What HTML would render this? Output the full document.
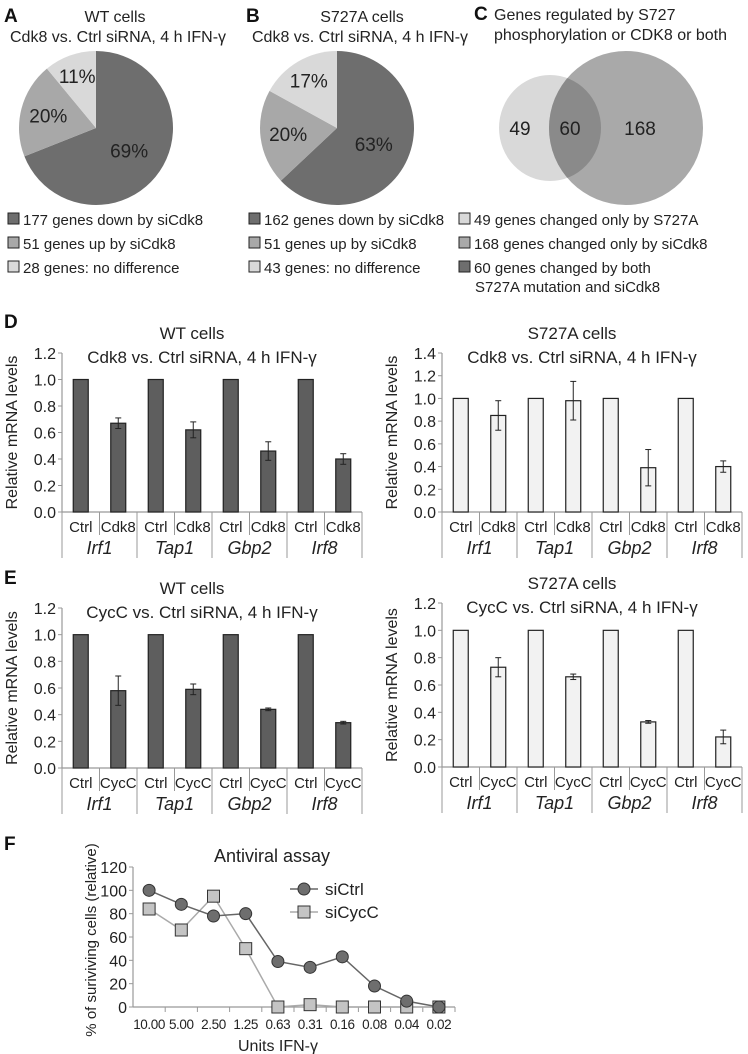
<!DOCTYPE html>
<html><head><meta charset="utf-8">
<style>
html,body{margin:0;padding:0;background:#fff;}
svg{display:block;font-family:"Liberation Sans",Arial,sans-serif;}
</style></head>
<body>
<svg id="fig" width="748" height="1054" viewBox="0 0 748 1054" xmlns="http://www.w3.org/2000/svg">
<g font-weight="bold" font-size="19" fill="#111">
<text x="4" y="22">A</text>
<text x="246" y="22">B</text>
<text x="474" y="20">C</text>
<text x="4" y="328">D</text>
<text x="4" y="584">E</text>
<text x="4" y="850">F</text>
</g>
<g font-size="16" fill="#222" text-anchor="middle">
<text x="115" y="22">WT cells</text>
<text x="118" y="42">Cdk8 vs. Ctrl siRNA, 4 h IFN-γ</text>
<text x="362" y="22">S727A cells</text>
<text x="360" y="42">Cdk8 vs. Ctrl siRNA, 4 h IFN-γ</text>
</g>
<g font-size="16" fill="#222">
<text x="494" y="20">Genes regulated by S727</text>
<text x="494" y="40">phosphorylation or CDK8 or both</text>
</g>
<g id="pies"></g>
<g id="venn">
<defs><clipPath id="smallclip"><ellipse cx="550" cy="128" rx="51" ry="53"/></clipPath></defs>
<ellipse cx="550" cy="128" rx="51" ry="53" fill="#d9d9d9"/>
<circle cx="626" cy="128" r="77" fill="#a9a9a9"/>
<circle cx="626" cy="128" r="77" fill="#8a8a8a" clip-path="url(#smallclip)"/>
<g font-size="19" fill="#222" text-anchor="middle">
<text x="520" y="135">49</text>
<text x="570" y="135">60</text>
<text x="640" y="135">168</text>
</g>
</g>
<g id="legends" font-size="15" fill="#222"></g>
<g id="bars"></g>
<g id="linechart"></g>
</svg>
<script>
// ---------- data ----------
const pieALabels = ["177 genes down by siCdk8","51 genes up by siCdk8","28 genes: no difference"];
const pieAValues = [69,20,11];
const pieBLabels = ["162 genes down by siCdk8","51 genes up by siCdk8","43 genes: no difference"];
const pieBValues = [63,20,17];
const vennLabels = ["49 genes changed only by S727A","168 genes changed only by siCdk8","60 genes changed by both"];
const genes = ["Irf1","Tap1","Gbp2","Irf8"];
const dCtrl = [1,1,1,1];
const dWtCdk8 = [0.67,0.62,0.46,0.40];
const dWtCdk8Err = [0.04,0.06,0.07,0.04];
const dS727Cdk8 = [0.85,0.98,0.39,0.40];
const dS727Cdk8Err = [0.13,0.17,0.16,0.05];
const eWtCycC = [0.58,0.59,0.44,0.34];
const eWtCycCErr = [0.11,0.04,0.01,0.01];
const eS727CycC = [0.73,0.66,0.33,0.22];
const eS727CycCErr = [0.07,0.02,0.01,0.05];
const fCategories = ["10.00","5.00","2.50","1.25","0.63","0.31","0.16","0.08","0.04","0.02"];
const fSiCtrl = [100,88,78,80,39,34,43,18,5,0];
const fSiCycC = [84,66,95,50,0,2,0,0,0,0];
const fTicks = [0,20,40,60,80,100,120];

const NS="http://www.w3.org/2000/svg";
function mk(tag,parent,attrs){const e=document.createElementNS(NS,tag);for(const k in attrs)e.setAttribute(k,attrs[k]);parent.appendChild(e);return e;}
const pieColors=["#6e6e6e","#a8a8a8","#d9d9d9"];

// ---------- pies ----------
function pie(cx,cy,r,vals,prefix){
  const g=document.getElementById('pies');
  const tot=vals.reduce((a,b)=>a+b,0);
  let a0=-Math.PI/2;
  vals.forEach((v,i)=>{
    const a1=a0+v/tot*2*Math.PI;
    const large=(a1-a0)>Math.PI?1:0;
    const p=mk('path',g,{d:`M${cx},${cy} L${cx+r*Math.cos(a0)},${cy+r*Math.sin(a0)} A${r},${r} 0 ${large} 1 ${cx+r*Math.cos(a1)},${cy+r*Math.sin(a1)} Z`,fill:pieColors[i]});
    
    
    const am=(a0+a1)/2, lr=r*(i==0?0.52:(i==2?0.72:0.64));
    const t=mk('text',g,{x:cx+lr*Math.cos(am),y:cy+lr*Math.sin(am)+7,'text-anchor':'middle','font-size':'19',fill:'#222'});
    t.textContent=v+'%';
    
    
    a0=a1;
  });
}
pie(96,128,77,pieAValues,'pie-a');
pie(337,128,77,pieBValues,'pie-b');

// ---------- legends ----------
function legend(x,labels,colors,prefix){
  const g=document.getElementById('legends');
  labels.forEach((l,i)=>{
    const y=225+i*24;
    const r=mk('rect',g,{x:x,y:y-12,width:11,height:11,fill:colors[i],stroke:'#222','stroke-width':1});
    
    
    const t=mk('text',g,{x:x+15,y:y});
    t.textContent=l;
    
    
  });
}
legend(8,pieALabels,pieColors,'pie-a-legend');
legend(249,pieBLabels,pieColors,'pie-b-legend');
legend(459,vennLabels,["#d9d9d9","#a9a9a9","#6e6e6e"],'venn-legend');
{const t=mk('text',document.getElementById('legends'),{x:475,y:292});t.textContent="S727A mutation and siCdk8";

}

// ---------- bar charts ----------
function barChart(o){
  const g=mk('g',document.getElementById('bars'),{});
  
  
  const W=300, H=o.y0-o.yTop;
  const ys=v=>o.y0-v/o.ymax*H;
  let t=mk('text',g,{x:o.x0+130,y:o.y0-H-14,'text-anchor':'middle','font-size':'17',fill:'#222'});t.textContent=o.t1;
  
  
  t=mk('text',g,{x:o.x0+140,y:o.y0-H+10,'text-anchor':'middle','font-size':'17',fill:'#222'});t.textContent=o.t2;
  
  
  mk('line',g,{x1:o.x0,y1:o.yTop,x2:o.x0,y2:o.y0,stroke:'#999','stroke-width':1.2});
  mk('line',g,{x1:o.x0,y1:o.y0,x2:o.x0+W,y2:o.y0,stroke:'#999','stroke-width':1.2});
  for(let v=0;v<=o.ymax+1e-9;v+=0.2){
    mk('line',g,{x1:o.x0-4,y1:ys(v),x2:o.x0,y2:ys(v),stroke:'#999'});
    const tk=mk('text',g,{x:o.x0-6,y:ys(v)+6,'text-anchor':'end','font-size':'16',fill:'#222'});
    tk.textContent=v.toFixed(1);
    
    
  }
  const yt=mk('text',g,{transform:`translate(${o.x0-45},${o.y0-H/2}) rotate(-90)`,'text-anchor':'middle','font-size':'16',fill:'#222'});
  yt.textContent='Relative mRNA levels';
  
  
  const gw=W/genes.length, sw=gw/2, bw=15;
  genes.forEach((gn,i)=>{
    const gx=o.x0+i*gw;
    mk('line',g,{x1:gx+gw,y1:o.y0,x2:gx+gw,y2:o.y0+46,stroke:'#999'});
    if(i==0) mk('line',g,{x1:gx,y1:o.y0,x2:gx,y2:o.y0+46,stroke:'#999'});
    mk('line',g,{x1:gx+sw,y1:o.y0,x2:gx+sw,y2:o.y0+23,stroke:'#999'});
    [[dCtrl[i],0,'Ctrl'],[o.vals[i],o.errs[i],o.lab]].forEach(([v,e,lab],j)=>{
      const cx=gx+sw*j+sw/2;
      const r=mk('rect',g,{x:cx-bw/2,y:ys(v),width:bw,height:o.y0-ys(v),fill:o.fill,stroke:'#222','stroke-width':1.2});
      
      
      if(e>0){
        mk('line',g,{x1:cx,y1:ys(v+e),x2:cx,y2:ys(v-e),stroke:'#222'});
        mk('line',g,{x1:cx-3,y1:ys(v+e),x2:cx+3,y2:ys(v+e),stroke:'#222'});
        mk('line',g,{x1:cx-3,y1:ys(v-e),x2:cx+3,y2:ys(v-e),stroke:'#222'});
      }
      const tl=mk('text',g,{x:cx,y:o.y0+20,'text-anchor':'middle','font-size':'15',fill:'#222'});
      tl.textContent=lab;
      
      
    });
    const gt=mk('text',g,{x:gx+gw/2,y:o.y0+42,'text-anchor':'middle','font-size':'18','font-style':'italic',fill:'#222'});
    gt.textContent=gn;
    
    
  });
}
barChart({name:'chart-d-wt',x0:62,y0:512,yTop:353,ymax:1.2,fill:'#5e5e5e',vals:dWtCdk8,errs:dWtCdk8Err,lab:'Cdk8',t1:'WT cells',t2:'Cdk8 vs. Ctrl siRNA, 4 h IFN-γ'});
barChart({name:'chart-d-s727a',x0:442,y0:512,yTop:353,ymax:1.4,fill:'#f2f2f2',vals:dS727Cdk8,errs:dS727Cdk8Err,lab:'Cdk8',t1:'S727A cells',t2:'Cdk8 vs. Ctrl siRNA, 4 h IFN-γ'});
barChart({name:'chart-e-wt',x0:62,y0:768,yTop:608,ymax:1.2,fill:'#5e5e5e',vals:eWtCycC,errs:eWtCycCErr,lab:'CycC',t1:'WT cells',t2:'CycC vs. Ctrl siRNA, 4 h IFN-γ'});
barChart({name:'chart-e-s727a',x0:442,y0:767,yTop:603,ymax:1.2,fill:'#f2f2f2',vals:eS727CycC,errs:eS727CycCErr,lab:'CycC',t1:'S727A cells',t2:'CycC vs. Ctrl siRNA, 4 h IFN-γ'});

// ---------- line chart ----------
(function(){
  const g=document.getElementById('linechart');
  
  
  const x0=133,x1=455,y0=1007,yT=867,ymax=120;
  const sw=(x1-x0)/fCategories.length;
  const xs=i=>x0+sw*(i+0.5), ys=v=>y0-v/ymax*(y0-yT);
  let t=mk('text',g,{x:272,y:862,'text-anchor':'middle','font-size':'18',fill:'#222'});t.textContent='Antiviral assay';
  
  
  mk('line',g,{x1:x0,y1:yT,x2:x0,y2:y0,stroke:'#999','stroke-width':1.2});
  mk('line',g,{x1:x0,y1:y0,x2:x1,y2:y0,stroke:'#999','stroke-width':1.2});
  fTicks.forEach(v=>{
    mk('line',g,{x1:x0-4,y1:ys(v),x2:x0,y2:ys(v),stroke:'#999'});
    const tk=mk('text',g,{x:x0-6,y:ys(v)+6,'text-anchor':'end','font-size':'16',fill:'#222'});tk.textContent=v;
    
    
  });
  fCategories.forEach((c,i)=>{
    mk('line',g,{x1:x0+sw*(i+1),y1:y0,x2:x0+sw*(i+1),y2:y0+5,stroke:'#999'});
    const tk=mk('text',g,{x:xs(i),y:y0+22,'text-anchor':'middle','font-size':'13.5','letter-spacing':'-0.4',fill:'#222'});tk.textContent=c;
    
    
  });
  t=mk('text',g,{x:278,y:1051,'text-anchor':'middle','font-size':'16',fill:'#222'});t.textContent='Units IFN-γ';
  
  
  t=mk('text',g,{transform:'translate(96,940) rotate(-90)','text-anchor':'middle','font-size':'15',fill:'#222'});t.textContent='% of suriviving cells (relative)';
  
  
  function series(vals,col,fill,shape,name){
    const pl=mk('polyline',g,{points:vals.map((v,i)=>xs(i)+','+ys(v)).join(' '),fill:'none',stroke:col,'stroke-width':1.5});
    
    
    vals.forEach((v,i)=>{
      const m=shape==='c'?mk('circle',g,{cx:xs(i),cy:ys(v),r:6,fill:fill,stroke:'#333'}):mk('rect',g,{x:xs(i)-6,y:ys(v)-6,width:12,height:12,fill:fill,stroke:'#333'});
      
      
    });
  }
  series(fSiCycC,'#aaa','#c4c4c4','s','sicycc');
  series(fSiCtrl,'#666','#6e6e6e','c','sictrl');
  mk('line',g,{x1:290,y1:889,x2:318,y2:889,stroke:'#666','stroke-width':1.5});
  let m=mk('circle',g,{cx:304,cy:889,r:6,fill:'#6e6e6e',stroke:'#333'});
  
  
  t=mk('text',g,{x:325,y:895,'font-size':'17',fill:'#222'});t.textContent='siCtrl';
  
  
  mk('line',g,{x1:290,y1:912,x2:318,y2:912,stroke:'#aaa','stroke-width':1.5});
  m=mk('rect',g,{x:298,y:906,width:12,height:12,fill:'#c4c4c4',stroke:'#333'});
  
  
  t=mk('text',g,{x:325,y:918,'font-size':'17',fill:'#222'});t.textContent='siCycC';
  
  
})();
</script>
</body></html>
